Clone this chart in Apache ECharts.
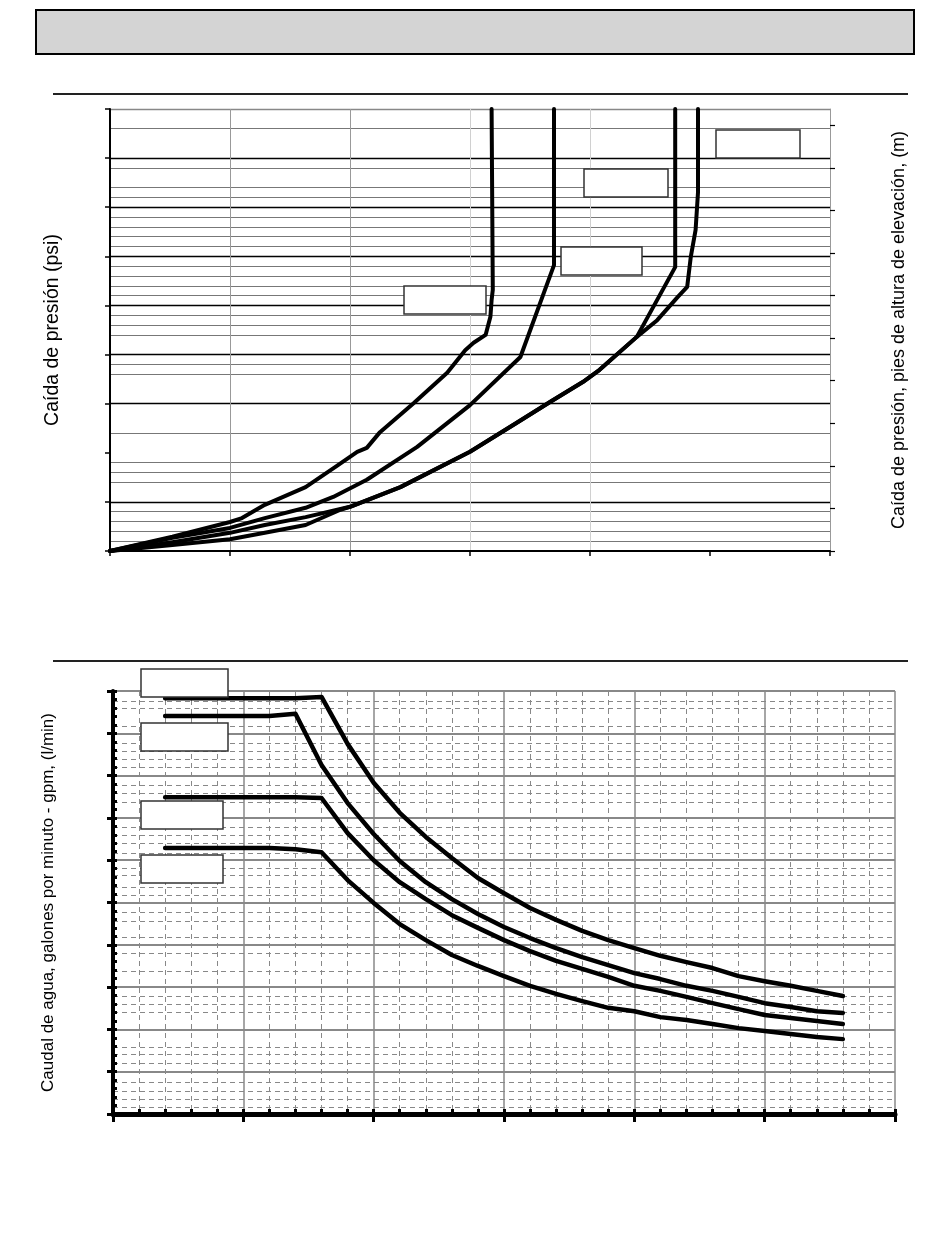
<!DOCTYPE html>
<html>
<head>
<meta charset="utf-8">
<script src="https://cdn.jsdelivr.net/npm/echarts@6/dist/echarts.min.js"></script>
<style>
  html, body { margin: 0; padding: 0; background: #fff; }
  #chart { width: 950px; height: 1260px; }
</style>
</head>
<body>
<div id="chart"></div>
<script>
// --- Gráfico superior: caída de presión (sin escalas rotuladas) ---
const topNameLeft = 'Caída de presión (psi)';
const topNameRight = 'Caída de presión, pies de altura de elevación, (m)';

const curve1X = [0, 0.52, 1.00, 1.10, 1.29, 1.63, 1.90, 2.06, 2.14, 2.25, 2.53, 2.81, 2.96, 3.03, 3.13, 3.17, 3.18, 3.19, 3.18];
const curve1Y = [0, 0.29, 0.59, 0.67, 0.94, 1.30, 1.75, 2.02, 2.10, 2.42, 3.01, 3.63, 4.09, 4.24, 4.40, 4.77, 5.11, 5.32, 9.0];

const curve2X = [0, 0.52, 1.00, 1.29, 1.63, 1.86, 2.14, 2.56, 3.00, 3.42, 3.70, 3.70];
const curve2Y = [0, 0.27, 0.47, 0.67, 0.88, 1.10, 1.45, 2.12, 2.97, 3.95, 5.82, 9.0];

const curve3X = [0, 0.52, 1.00, 1.29, 1.63, 2.00, 2.42, 3.00, 3.39, 3.67, 3.94, 4.08, 4.39, 4.71, 4.71];
const curve3Y = [0, 0.18, 0.37, 0.53, 0.69, 0.90, 1.30, 2.02, 2.61, 3.04, 3.44, 3.69, 4.36, 5.78, 9.0];

const curve4X = [0, 0.52, 1.00, 1.29, 1.63, 1.92, 2.00, 2.42, 3.00, 3.39, 3.67, 3.94, 4.08, 4.39, 4.56, 4.73, 4.81, 4.84, 4.88, 4.90, 4.90];
const curve4Y = [0, 0.12, 0.24, 0.37, 0.53, 0.84, 0.90, 1.30, 2.02, 2.61, 3.04, 3.44, 3.69, 4.36, 4.70, 5.17, 5.38, 5.99, 6.54, 7.30, 9.0];

// lineas finas grises del gráfico superior
const topMinorGrid = [0.2, 0.4, 0.6, 0.8, 1.4, 1.6, 1.8, 2.4, 3.6, 3.8, 4.4, 4.6, 4.8,
  5.2, 5.4, 5.6, 5.8, 6.2, 6.4, 6.6, 6.8, 7.2, 7.4, 7.8, 8.6];
// marcas del eje derecho (pies)
const topRightTicks = [0, 1, 2, 3, 4, 5, 6, 7, 8, 9, 10];

// --- Gráfico inferior: caudal de agua ---
const flowName = 'Caudal de agua, galones por minuto - gpm, (l/min)';
const flowX = [0.4, 1.2, 1.4, 1.6, 1.8, 2.0, 2.2, 2.4, 2.6, 2.8, 3.0, 3.2, 3.4, 3.6, 3.8, 4.0, 4.2, 4.4, 4.6, 4.8, 5.0, 5.2, 5.4, 5.6];
const flowA = [9.83, 9.83, 9.83, 9.86, 8.75, 7.83, 7.12, 6.55, 6.05, 5.58, 5.22, 4.87, 4.59, 4.33, 4.11, 3.92, 3.74, 3.59, 3.45, 3.26, 3.14, 3.03, 2.91, 2.79];
const flowB = [9.41, 9.41, 9.46, 8.25, 7.35, 6.62, 5.98, 5.48, 5.08, 4.73, 4.42, 4.16, 3.92, 3.71, 3.52, 3.33, 3.19, 3.03, 2.91, 2.77, 2.62, 2.53, 2.43, 2.39];
const flowC = [7.49, 7.49, 7.49, 7.47, 6.64, 6.00, 5.48, 5.08, 4.70, 4.40, 4.11, 3.85, 3.62, 3.43, 3.24, 3.03, 2.91, 2.77, 2.62, 2.48, 2.34, 2.27, 2.20, 2.13];
const flowD = [6.29, 6.29, 6.26, 6.19, 5.53, 4.99, 4.49, 4.11, 3.76, 3.50, 3.26, 3.03, 2.84, 2.67, 2.51, 2.43, 2.29, 2.22, 2.13, 2.03, 1.96, 1.89, 1.82, 1.77];

// lineas discontinuas horizontales del gráfico inferior
const flowMinorGrid = [9.76, 9.6, 9.17, 8.77, 8.58, 8.39, 8.2, 7.78, 7.59, 7.38, 6.79, 6.6, 6.41, 6.17,
  5.82, 5.65, 5.37, 5.18, 4.78, 4.56, 4.18, 3.81, 3.38, 2.79, 2.6, 2.41, 1.58, 1.41, 1.21,
  0.76, 0.54, 0.35, 0.17];

function zip(xs, ys) {
    return xs.map((x, i) => [x, ys[i]]);
}

function lineSerie(data, xIdx, yIdx, width) {
    return {
        type: 'line',
        xAxisIndex: xIdx,
        yAxisIndex: yIdx,
        data: data,
        showSymbol: false,
        symbol: 'none',
        lineStyle: { color: '#000', width: width, cap: 'round', join: 'round' },
        z: 5
    };
}

function box(x, y, w, h) {
    return {
        type: 'rect',
        shape: { x: x, y: y, width: w, height: h },
        style: { fill: '#fff', stroke: '#333', lineWidth: 1.5 },
        z: 100
    };
}

const font = 'Liberation Sans, Arial, sans-serif';
const clear = 'rgba(0,0,0,0)';

var chart = echarts.init(document.getElementById('chart'), null, { renderer: 'canvas' });

var option = {
    animation: false,
    backgroundColor: '#fff',
    grid: [
        { left: 110, top: 109, width: 720, height: 442 },
        { left: 113, top: 691, width: 782, height: 423 }
    ],
    xAxis: [
        {
            gridIndex: 0, type: 'value', min: 0, max: 6, interval: 1,
            axisLine: { onZero: false, lineStyle: { color: '#000', width: 2 } },
            axisTick: { length: 5, lineStyle: { color: '#000', width: 1.5 } },
            axisLabel: { show: false },
            splitLine: { show: true, lineStyle: { width: 1, color: ['#000', '#999', '#999', '#d0d0d0', '#d0d0d0', clear, '#999'] } }
        },
        {
            gridIndex: 1, type: 'value', min: 0, max: 6, interval: 1,
            axisLine: { onZero: false, lineStyle: { color: '#000', width: 5 } },
            axisTick: { length: 8, lineStyle: { color: '#000', width: 3 } },
            axisLabel: { show: false },
            splitLine: { show: true, lineStyle: { color: '#888', width: 1.5 } },
            minorTick: { show: false, splitNumber: 5 },
            minorSplitLine: { show: true, lineStyle: { color: '#888', width: 1, type: [5, 4] } }
        },
        {
            gridIndex: 1, type: 'value', min: 0, max: 6, interval: 0.2, position: 'bottom',
            axisLine: { show: false },
            axisTick: { inside: true, length: 5, lineStyle: { color: '#000', width: 3 } },
            axisLabel: { show: false },
            splitLine: { show: false }
        }
    ],
    yAxis: [
        {
            gridIndex: 0, type: 'value', min: 0, max: 9, interval: 1, position: 'left',
            name: topNameLeft, nameLocation: 'middle', nameGap: 47,
            nameTextStyle: { fontFamily: font, fontSize: 19.5, color: '#000' },
            axisLine: { onZero: false, lineStyle: { color: '#000', width: 2 } },
            axisTick: { length: 5, lineStyle: { color: '#000', width: 1.5 } },
            axisLabel: { show: false },
            splitLine: { show: true, lineStyle: { width: 1.3, color: [clear, '#000', clear, '#000', '#000', '#000', '#000', '#000', '#000', '#888'] } }
        },
        {
            gridIndex: 0, type: 'value', min: 0, max: 10.38, position: 'right',
            name: topNameRight, nameLocation: 'middle', nameGap: 60,
            nameTextStyle: { fontFamily: font, fontSize: 18, color: '#000' },
            axisLine: { onZero: false, lineStyle: { color: '#999', width: 1 } },
            axisTick: { length: 5, customValues: topRightTicks, lineStyle: { color: '#000', width: 1.2 } },
            axisLabel: { show: false },
            splitLine: { show: false }
        },
        {
            gridIndex: 0, type: 'value', min: 0, max: 9, position: 'left',
            axisLine: { show: false },
            axisTick: { show: false, customValues: topMinorGrid },
            axisLabel: { show: false },
            splitLine: { show: true, lineStyle: { color: '#777', width: 1 } }
        },
        {
            gridIndex: 1, type: 'value', min: 0, max: 10, interval: 1, position: 'left',
            name: flowName, nameLocation: 'middle', nameGap: 56,
            nameTextStyle: { fontFamily: font, fontSize: 17, color: '#000' },
            axisLine: { onZero: false, lineStyle: { color: '#000', width: 4 } },
            axisTick: { length: 6, lineStyle: { color: '#000', width: 3 } },
            axisLabel: { show: false },
            splitLine: { show: true, lineStyle: { color: '#888', width: 2 } }
        },
        {
            gridIndex: 1, type: 'value', min: 0, max: 10, interval: 0.2, position: 'left',
            axisLine: { show: false },
            axisTick: { inside: true, length: 4, lineStyle: { color: '#000', width: 3 } },
            axisLabel: { show: false },
            splitLine: { show: false }
        },
        {
            gridIndex: 1, type: 'value', min: 0, max: 10, position: 'left',
            axisLine: { show: false },
            axisTick: { show: false, customValues: flowMinorGrid },
            axisLabel: { show: false },
            splitLine: { show: true, lineStyle: { color: '#888', width: 1, type: [5, 4] } }
        }
    ],
    graphic: [
        { type: 'rect', shape: { x: 36, y: 10, width: 878, height: 44 }, style: { fill: '#d4d4d4', stroke: '#000', lineWidth: 2 }, z: 100 },
        { type: 'line', shape: { x1: 53, y1: 94, x2: 908, y2: 94 }, style: { stroke: '#222', lineWidth: 2 }, z: 100 },
        { type: 'line', shape: { x1: 53, y1: 661, x2: 908, y2: 661 }, style: { stroke: '#222', lineWidth: 2 }, z: 100 },
        // cuadros de rótulo (vacíos)
        box(404, 286, 82, 28),
        box(561, 247, 81, 28),
        box(584, 169, 84, 28),
        box(716, 130, 84, 28),
        box(141, 669, 87, 28),
        box(141, 723, 87, 28),
        box(141, 801, 82, 28),
        box(141, 855, 82, 28)
    ],
    series: [
        lineSerie(zip(curve1X, curve1Y), 0, 0, 4),
        lineSerie(zip(curve2X, curve2Y), 0, 0, 4),
        lineSerie(zip(curve3X, curve3Y), 0, 0, 4),
        lineSerie(zip(curve4X, curve4Y), 0, 0, 4),
        lineSerie(zip(flowX, flowA), 1, 3, 4.5),
        lineSerie(zip(flowX, flowB), 1, 3, 4.5),
        lineSerie(zip(flowX, flowC), 1, 3, 4.5),
        lineSerie(zip(flowX, flowD), 1, 3, 4.5)
    ]
};

chart.setOption(option);
</script>
</body>
</html>
